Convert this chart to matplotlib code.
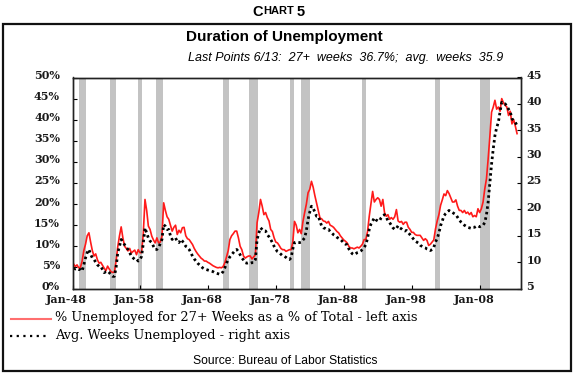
import numpy as np
import pandas as pd
import matplotlib
matplotlib.use('Agg')
import matplotlib.pyplot as plt
import matplotlib.dates as mdates
from matplotlib.lines import Line2D
from matplotlib.patches import Rectangle
from matplotlib.transforms import ScaledTranslation

# quarterly readings, Mar-48 .. Jun-13
long_term_pct = [
    5.8, 5.2, 5.6, 4.9,  5.0, 6.5, 9.0, 10.5,  12.5, 13.2, 11.0, 9.0,
    7.7, 8.2, 6.8, 6.0,  6.2, 5.5, 4.8, 4.2,  5.3, 4.6, 4.0, 3.8,
    3.9, 6.5, 10.0, 12.5,  14.6, 12.0, 10.0, 9.5,  8.9, 9.5, 8.4, 8.8,
    9.1, 8.0, 9.2, 8.5,  8.5, 13.0, 21.1, 18.5,  14.8, 14.0, 12.4, 11.5,
    10.8, 12.0, 10.8, 11.0,  12.4, 20.3, 18.5, 17.0,  16.4, 15.0, 13.6, 14.5,
    15.0, 12.8, 13.8, 13.2,  14.4, 14.5, 12.5, 11.8,  11.6, 11.0, 10.4, 9.5,
    8.8, 8.2, 7.7, 7.2,  6.9, 6.5, 6.5, 6.2,  6.0, 5.7, 5.4, 5.2,
    5.0, 4.9, 5.0, 4.9,  5.2, 6.1, 7.5, 9.0,  11.6, 12.5, 13.0, 13.6,
    13.6, 12.0, 10.0, 9.2,  7.7, 7.2, 7.5, 7.7,  7.7, 7.0, 7.5, 8.0,
    15.6, 18.0, 21.1, 19.5,  17.5, 18.0, 16.8, 16.0,  14.0, 13.5, 12.0, 11.0,
    10.8, 10.2, 9.5, 9.2,  9.2, 8.8, 9.0, 9.2,  9.2, 11.0, 15.9, 15.0,
    13.2, 14.0, 13.0, 15.9,  18.0, 20.0, 22.7, 23.5,  25.4, 24.0, 22.0, 20.3,
    18.5, 16.7, 16.5, 16.0,  15.9, 15.5, 15.9, 15.0,  14.8, 14.5, 14.0, 13.5,
    13.2, 12.5, 12.0, 11.5,  11.2, 10.8, 10.0, 9.6,  9.6, 9.4, 9.6, 9.8,
    9.6, 10.0, 10.5, 11.6,  11.6, 13.5, 17.1, 20.0,  23.0, 20.5, 21.1, 21.5,
    21.1, 19.5, 21.1, 18.0,  17.1, 17.5, 16.4, 16.8,  16.4, 17.0, 18.7, 16.0,
    15.7, 15.9, 15.2, 15.7,  15.7, 14.5, 14.0, 13.3,  13.3, 12.8, 12.6, 12.6,
    12.6, 12.0, 11.4, 11.8,  11.4, 10.2, 10.5, 11.0,  11.5, 14.1, 16.0, 17.5,
    19.7, 21.0, 22.4, 22.0,  23.2, 22.5, 21.5, 20.5,  20.5, 21.0, 19.5, 18.5,
    18.5, 18.0, 18.5, 17.8,  18.1, 17.5, 18.0, 17.0,  17.3, 17.0, 18.9, 18.0,
    18.9, 20.5, 23.6, 26.0,  30.7, 36.0, 41.8, 43.0,  44.6, 42.5, 43.0, 42.0,
    45.0, 44.0, 43.4, 43.0,  41.0, 42.0, 39.0, 40.0,  38.5, 36.7,
]

avg_weeks = [
    8.9, 8.7, 8.8, 8.6,  8.6, 8.3, 9.5, 10.8,  11.8, 12.4, 11.5, 10.8,
    10.5, 10.0, 9.5, 9.2,  9.2, 8.6, 8.0, 8.2,  8.3, 8.0, 7.6, 7.3,
    7.3, 9.0, 11.8, 13.0,  14.3, 13.8, 13.3, 12.8,  12.4, 11.8, 11.1, 10.8,
    10.5, 10.6, 10.2, 10.4,  11.1, 13.5, 16.5, 15.5,  14.6, 14.0, 13.7, 13.0,
    12.4, 12.4, 12.8, 13.5,  14.3, 17.1, 16.8, 16.2,  16.2, 15.0, 14.3, 14.6,
    14.6, 13.9, 13.7, 14.3,  14.0, 13.5, 13.0, 12.8,  12.4, 11.8, 11.1, 10.6,
    10.2, 9.8, 9.5, 9.2,  8.9, 8.7, 8.6, 8.5,  8.4, 8.3, 8.2, 8.0,
    7.9, 7.8, 7.7, 7.8,  8.2, 8.9, 9.8, 10.5,  11.0, 11.4, 11.8, 12.2,
    12.4, 12.0, 11.4, 10.8,  10.4, 9.9, 9.8, 9.9,  9.8, 9.9, 9.9, 10.5,
    14.3, 15.5, 16.5, 16.2,  15.9, 15.9, 15.2, 14.8,  14.3, 13.7, 13.0, 12.4,
    12.0, 11.8, 11.5, 11.2,  11.1, 10.9, 10.6, 10.5,  10.8, 12.5, 13.7, 13.8,
    13.7, 13.7, 13.8, 14.2,  14.6, 16.0, 18.1, 19.5,  20.6, 20.2, 19.5, 18.7,
    18.7, 17.8, 16.8, 16.5,  16.4, 16.2, 16.2, 15.8,  15.5, 15.2, 15.0, 14.7,
    14.5, 14.3, 14.0, 13.6,  13.4, 13.3, 12.5, 12.0,  11.6, 11.4, 11.6, 11.8,
    11.9, 12.1, 12.4, 12.8,  13.3, 14.5, 16.2, 17.2,  17.8, 18.4, 18.0, 17.8,
    17.8, 18.4, 18.8, 19.0,  18.6, 17.8, 17.5, 17.0,  16.5, 16.2, 16.4, 16.9,
    16.5, 16.3, 16.0, 15.9,  16.0, 15.6, 15.2, 14.8,  14.4, 14.0, 13.8, 13.6,
    13.2, 13.0, 12.8, 12.7,  12.5, 12.4, 12.2, 12.4,  12.8, 13.8, 14.5, 15.5,
    16.9, 17.8, 18.8, 19.2,  19.5, 19.8, 19.5, 19.4,  19.2, 19.0, 18.5, 18.0,
    17.6, 17.3, 17.0, 16.8,  16.6, 16.5, 16.4, 16.6,  16.6, 16.8, 16.9, 16.7,
    16.9, 17.0, 17.5, 19.0,  21.4, 25.0, 28.6, 31.5,  34.0, 35.5, 36.5, 38.5,
    40.3, 40.0, 40.0, 39.6,  39.0, 38.5, 37.2, 36.8,  36.5, 35.9,
]

recessions = [
    ('1949-01', '1949-12'), ('1953-08', '1954-06'), ('1957-08', '1958-03'),
    ('1960-04', '1961-04'), ('1970-02', '1971-01'), ('1974-01', '1975-05'),
    ('1980-01', '1980-08'), ('1981-08', '1983-01'), ('1990-08', '1991-04'),
    ('2001-06', '2002-02'), ('2008-01', '2009-07'),
]

tick_years = [1948, 1958, 1968, 1978, 1988, 1998, 2008]

dates = pd.date_range('1948-03-01', periods=len(long_term_pct), freq='3MS')

serif = 'DejaVu Serif'
sans = 'Liberation Sans'

fig = plt.figure(figsize=(5.76, 3.76), dpi=100)
W, H = 576, 376

def fx(px):
    return px / W

def fy(py):
    return 1 - py / H

ax = fig.add_axes([fx(72.5), fy(288.5), fx(521) - fx(72.5), fy(77.5) - fy(288.5)])
ax2 = ax.twinx()

for start, end in recessions:
    ax.axvspan(pd.Timestamp(start), pd.Timestamp(end), color='#c3c3c3', lw=0, zorder=0)

ax.plot(dates, long_term_pct, color='#ff1a1a', lw=1.2, zorder=3)
ax2.plot(dates, avg_weeks, color='black', lw=2.0, linestyle=(0, (0.9, 1.1)), zorder=2)

ax.set_xlim(pd.Timestamp('1948-01-01'), pd.Timestamp('2013-12-31'))
ax.set_ylim(0, 50)
ax2.set_ylim(5, 45)
ax.set_yticks(np.arange(0, 51, 5))
ax2.set_yticks(np.arange(5, 46, 5))
ax.set_yticklabels([f'{v}%' for v in range(0, 51, 5)])
ax.set_xticks([pd.Timestamp(f'{y}-01-01') for y in tick_years])
ax.xaxis.set_major_formatter(mdates.DateFormatter('%b-%y'))

for a in (ax, ax2):
    for s in a.spines.values():
        s.set_linewidth(1.0)
        s.set_color('#222222')
ax.tick_params(axis='x', direction='in', length=3, width=0.8, pad=4, labelsize=8)
ax.tick_params(axis='y', direction='in', length=3, width=0.8, pad=9, labelsize=8)
ax2.tick_params(axis='y', direction='in', length=3, width=0.8, pad=4, labelsize=8)

shift_x = ScaledTranslation(-6 / 100, 0, fig.dpi_scale_trans)
shift_y = ScaledTranslation(0, 3 / 100, fig.dpi_scale_trans)
for lab in ax.get_xticklabels():
    lab.set_fontfamily(serif)
    lab.set_fontweight('bold')
    lab.set_color('#1a1a1a')
    lab.set_transform(lab.get_transform() + shift_x)
for lab in ax.get_yticklabels() + ax2.get_yticklabels():
    lab.set_fontfamily(serif)
    lab.set_fontweight('bold')
    lab.set_color('#1a1a1a')
    lab.set_transform(lab.get_transform() + shift_y)

# outer frame
fig.patches.append(Rectangle((fx(3), fy(371)), fx(571) - fx(3), fy(24) - fy(371),
                             transform=fig.transFigure, fill=False, lw=1.6,
                             edgecolor='#111111'))

# "Chart 5" in small caps
fig.text(fx(263), fy(10), 'C', fontsize=10.5, fontweight='bold', family=sans,
         ha='right', va='center_baseline')
fig.text(fx(263.5), fy(10), 'HART', fontsize=8, fontweight='bold', family=sans,
         ha='left', va='center_baseline')
fig.text(fx(297), fy(10), '5', fontsize=10.5, fontweight='bold', family=sans,
         ha='left', va='center_baseline')

fig.text(fx(284), fy(37), 'Duration of Unemployment', fontsize=11,
         fontweight='bold', family=sans, ha='center', va='center')
fig.text(fx(346), fy(58), 'Last Points 6/13:  27+  weeks  36.7%;  avg.  weeks  35.9',
         fontsize=9, style='italic', family=sans, ha='center', va='center')

# legend below the axes
fig.add_artist(Line2D([fx(11), fx(51)], [fy(319), fy(319)], color='#ff6f6f', lw=1.5,
                      transform=fig.transFigure))
fig.text(fx(55), fy(318), '% Unemployed for 27+ Weeks as a % of Total - left axis',
         fontsize=9.3, family=serif, ha='left', va='center')
fig.add_artist(Line2D([fx(10), fx(50)], [fy(336), fy(336)], color='black', lw=1.6,
                      linestyle=(0, (1, 2)), transform=fig.transFigure))
fig.text(fx(55), fy(335), 'Avg. Weeks Unemployed - right axis',
         fontsize=9.3, family=serif, ha='left', va='center')

fig.text(fx(285), fy(361), 'Source: Bureau of Labor Statistics', fontsize=8.7,
         family=sans, ha='center', va='center')

fig.savefig('out.png', dpi=100)
